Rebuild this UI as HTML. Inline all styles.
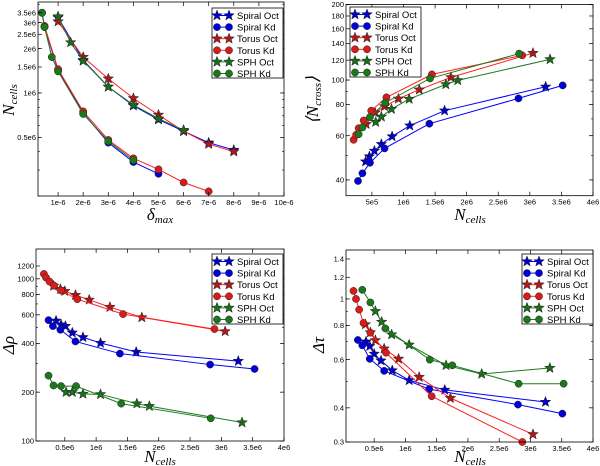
<!DOCTYPE html>
<html><head><meta charset="utf-8"><style>
body{margin:0;background:#fff;width:600px;height:466px;overflow:hidden}
svg{display:block;font-family:"Liberation Sans",sans-serif}
</style></head><body>
<svg id="c" width="600" height="466" viewBox="0 0 600 466"></svg>
<script>
// ---- Panel 1: N_cells vs delta_max ----
const p1SpiralOctX=[1e-6,2e-6,3e-6,4e-6,5e-6,6e-6,7e-6,8e-6];
const p1SpiralOctY=[3.25e6,1.67e6,1.1e6,0.82e6,0.66e6,0.55e6,0.46e6,0.41e6];
const p1SpiralKdX=[0.36e-6,0.46e-6,1e-6,2e-6,3e-6,4e-6,5e-6];
const p1SpiralKdY=[3.5e6,2.8e6,1.42e6,0.73e6,0.46e6,0.34e6,0.283e6];
const p1TorusOctX=[1e-6,2e-6,3e-6,4e-6,5e-6,6e-6,7e-6,8e-6];
const p1TorusOctY=[3.05e6,1.75e6,1.25e6,0.92e6,0.71e6,0.55e6,0.45e6,0.40e6];
const p1TorusKdX=[0.36e-6,0.46e-6,1e-6,2e-6,3e-6,4e-6,5e-6,6e-6,7e-6];
const p1TorusKdY=[3.5e6,2.85e6,1.45e6,0.75e6,0.48e6,0.36e6,0.303e6,0.247e6,0.215e6];
const p1SphOctX=[1e-6,1.5e-6,2e-6,3e-6,4e-6,5e-6,6e-6];
const p1SphOctY=[3.3e6,2.2e6,1.65e6,1.1e6,0.83e6,0.67e6,0.56e6];
const p1SphKdX=[0.36e-6,0.46e-6,0.75e-6,1e-6,2e-6,3e-6,4e-6];
const p1SphKdY=[3.5e6,2.8e6,1.75e6,1.4e6,0.72e6,0.47e6,0.35e6];
const p1XTicks=[1e-6,2e-6,3e-6,4e-6,5e-6,6e-6,7e-6,8e-6,9e-6,10e-6];
const p1XLabels=["1e-6","2e-6","3e-6","4e-6","5e-6","6e-6","7e-6","8e-6","9e-6","10e-6"];
const p1YTicks=[0.5e6,1e6,1.5e6,2e6,2.5e6,3e6,3.5e6];
const p1YLabels=["0.5e6","1e6","1.5e6","2e6","2.5e6","3e6","3.5e6"];
// ---- Panel 2: <N_cross> vs N_cells ----
const p2SpiralOctX=[0.40e6,0.46e6,0.54e6,0.65e6,0.82e6,1.10e6,1.65e6,3.25e6];
const p2SpiralOctY=[47.3,49.6,52.2,55.5,59.6,65.8,75.5,94];
const p2SpiralKdX=[0.28e6,0.35e6,0.47e6,0.70e6,1.41e6,2.82e6,3.52e6];
const p2SpiralKdY=[39.6,42.5,46.8,53.4,67,84.5,95.2];
const p2TorusOctX=[0.41e6,0.55e6,0.70e6,0.92e6,1.25e6,1.75e6,3.05e6];
const p2TorusOctY=[66.7,74.1,78.5,84.2,91.5,102.5,128];
const p2TorusKdX=[0.21e6,0.25e6,0.29e6,0.37e6,0.49e6,0.73e6,1.45e6,2.88e6];
const p2TorusKdY=[57.8,60.5,64.3,69,75.5,85.3,105.3,125.4];
const p2SphOctX=[0.56e6,0.65e6,0.81e6,1.09e6,1.67e6,1.86e6,3.32e6];
const p2SphOctY=[68,71.4,76.6,84,96.1,99.7,120.9];
const p2SphKdX=[0.29e6,0.35e6,0.47e6,0.71e6,1.42e6,2.83e6];
const p2SphKdY=[60.8,64.7,71.2,81.2,101.5,127.4];
const p2XTicks=[0.5e6,1e6,1.5e6,2e6,2.5e6,3e6,3.5e6,4e6];
const p2XLabels=["5e5","1e6","1.5e6","2e6","2.5e6","3e6","3.5e6","4e6"];
const p2YTicks=[40,60,80,100,120,140,160,180,200];
const p2YLabels=["40","60","80","100","120","140","160","180","200"];
// ---- Panel 3: delta rho vs N_cells ----
const p3SpiralOctX=[0.36e6,0.44e6,0.51e6,0.62e6,0.79e6,1.07e6,1.64e6,3.27e6];
const p3SpiralOctY=[551,521,511,465,436,402,354,311];
const p3SpiralKdX=[0.24e6,0.31e6,0.43e6,0.67e6,1.38e6,2.82e6,3.53e6];
const p3SpiralKdY=[556,511,485,411,346,296,278];
const p3TorusOctX=[0.32e6,0.43e6,0.50e6,0.67e6,0.89e6,1.22e6,1.73e6,3.06e6];
const p3TorusOctY=[904,863,839,793,742,669,578,474];
const p3TorusKdX=[0.166e6,0.20e6,0.257e6,0.33e6,0.44e6,0.70e6,1.43e6,2.89e6];
const p3TorusKdY=[1072,1018,961,908,847,749,606,490];
const p3SphOctX=[0.52e6,0.62e6,0.79e6,1.07e6,1.65e6,1.85e6,3.33e6];
const p3SphOctY=[200,200,195,194,170,164,130];
const p3SphKdX=[0.24e6,0.32e6,0.44e6,0.68e6,1.40e6,2.83e6];
const p3SphKdY=[253,220,218,218,170,138];
const p3XTicks=[0.5e6,1e6,1.5e6,2e6,2.5e6,3e6,3.5e6,4e6];
const p3XLabels=["0.5e6","1e6","1.5e6","2e6","2.5e6","3e6","3.5e6","4e6"];
const p3YTicks=[100,200,400,600,800,1000,1200];
const p3YLabels=["100","200","400","600","800","1000","1200"];
// ---- Panel 4: delta tau vs N_cells ----
const p4SpiralOctX=[0.37e6,0.43e6,0.50e6,0.61e6,0.79e6,1.06e6,1.63e6,3.24e6];
const p4SpiralOctY=[0.698,0.672,0.63,0.595,0.548,0.504,0.465,0.42];
const p4SpiralKdX=[0.24e6,0.31e6,0.43e6,0.66e6,1.38e6,2.80e6,3.51e6];
const p4SpiralKdY=[0.708,0.677,0.604,0.546,0.468,0.411,0.381];
const p4TorusOctX=[0.36e6,0.44e6,0.52e6,0.66e6,0.89e6,1.22e6,1.72e6,3.04e6];
const p4TorusOctY=[0.807,0.754,0.706,0.658,0.604,0.518,0.434,0.32];
const p4TorusKdX=[0.17e6,0.21e6,0.26e6,0.33e6,0.44e6,0.69e6,1.42e6,2.87e6];
const p4TorusKdY=[1.07,1.00,0.914,0.817,0.753,0.636,0.441,0.30];
const p4SphOctX=[0.52e6,0.62e6,0.78e6,1.06e6,1.65e6,2.22e6,3.31e6];
const p4SphOctY=[0.902,0.824,0.741,0.68,0.572,0.532,0.559];
const p4SphKdX=[0.31e6,0.44e6,0.68e6,1.39e6,1.75e6,2.81e6,3.53e6];
const p4SphKdY=[1.08,0.971,0.780,0.60,0.572,0.49,0.49];
const p4XTicks=[0.5e6,1e6,1.5e6,2e6,2.5e6,3e6,3.5e6,4e6];
const p4XLabels=["0.5e6","1e6","1.5e6","2e6","2.5e6","3e6","3.5e6","4e6"];
const p4YTicks=[0.3,0.4,0.6,0.8,1.0,1.2,1.4];
const p4YLabels=["0.3","0.4","0.6","0.8","1","1.2","1.4"];

const NS="http://www.w3.org/2000/svg";
const svg=document.getElementById('c');
function mk(tag,attrs,parent){const e=document.createElementNS(NS,tag);for(const k in attrs)e.setAttribute(k,attrs[k]);(parent||svg).appendChild(e);return e;}
const STYLE={
 spiralOct:{line:"#0000ff",fill:"#0000cc",m:"star",label:"Spiral Oct"},
 spiralKd:{line:"#0000ff",fill:"#0000dd",m:"circle",label:"Spiral Kd"},
 torusOct:{line:"#ff2020",fill:"#b01818",m:"star",label:"Torus Oct"},
 torusKd:{line:"#ff2020",fill:"#dd1a1a",m:"circle",label:"Torus Kd"},
 sphOct:{line:"#1f7a1f",fill:"#1a6b1a",m:"star",label:"SPH Oct"},
 sphKd:{line:"#1f7a1f",fill:"#1a7a1a",m:"circle",label:"SPH Kd"}
};
function starPts(cx,cy,R){let p=[];for(let i=0;i<10;i++){const r=i%2?R*0.42:R;const a=-Math.PI/2+i*Math.PI/5;p.push((cx+r*Math.cos(a)).toFixed(2)+","+(cy+r*Math.sin(a)).toFixed(2));}return p.join(" ");}
function marker(g,st,x,y,name){
 let e;
 if(st.m==="star"){e=mk('polygon',{points:starPts(x,y,5.5),fill:st.fill,stroke:"#222","stroke-width":0.5},g);}
 else{e=mk('circle',{cx:x,cy:y,r:3.6,fill:st.fill,stroke:"#222","stroke-width":0.5},g);}
 
 
}
function panel(P){
 const g=mk('g',{});
 
 
 const {L,R,T,B}=P;
 const sx=v=>L+(v-P.xmin)/(P.xmax-P.xmin)*(R-L);
 const ly0=Math.log10(P.ymin),ly1=Math.log10(P.ymax);
 const sy=v=>B-(Math.log10(v)-ly0)/(ly1-ly0)*(B-T);
 // minor y ticks
 for(let k=Math.floor(ly0);k<=Math.ceil(ly1);k++){for(let d=1;d<10;d++){const v=d*Math.pow(10,k);if(v<P.ymin*0.999||v>P.ymax*1.001)continue;const y=sy(v);
  mk('line',{x1:L,x2:L+2,y1:y,y2:y,stroke:"#000","stroke-width":0.6},g);mk('line',{x1:R,x2:R-2,y1:y,y2:y,stroke:"#000","stroke-width":0.6},g);}}
 // series
 for(const s of P.series){
  const st=STYLE[s.key];const sg=mk('g',{},g);
  
  
  const pts=s.x.map((v,i)=>sx(v).toFixed(2)+","+sy(s.y[i]).toFixed(2)).join(" ");
  mk('polyline',{points:pts,fill:"none",stroke:st.line,"stroke-width":1},sg);
  s.x.forEach((v,i)=>marker(sg,st,sx(v),sy(s.y[i]),'marker'));
 }
 // frame
 const fr=mk('rect',{x:L,y:T,width:R-L,height:B-T,fill:"none",stroke:"#000","stroke-width":0.8},g);
 
 
 // x ticks
 P.xt.forEach((v,i)=>{const x=sx(v);
  mk('line',{x1:x,x2:x,y1:B,y2:B-4,stroke:"#000","stroke-width":0.7},g);mk('line',{x1:x,x2:x,y1:T,y2:T+4,stroke:"#000","stroke-width":0.7},g);
  const t=mk('text',{x:x,y:B+9,"font-size":7.5,"text-anchor":"middle"},g);t.textContent=P.xl[i];
  
  });
 P.yt.forEach((v,i)=>{const y=sy(v);
  mk('line',{x1:L,x2:L+4,y1:y,y2:y,stroke:"#000","stroke-width":0.7},g);mk('line',{x1:R,x2:R-4,y1:y,y2:y,stroke:"#000","stroke-width":0.7},g);
  const t=mk('text',{x:L-2,y:y+2.7,"font-size":7.5,"text-anchor":"end"},g);t.textContent=P.yl[i];
  
  });
 // legend
 const lg=mk('g',{},g);
 
 
 mk('rect',{x:P.lx,y:P.ly,width:71,height:70,fill:"#fff",stroke:"#000","stroke-width":0.8},lg);
 ["spiralOct","spiralKd","torusOct","torusKd","sphOct","sphKd"].forEach((k,i)=>{
  const st=STYLE[k];const y=P.ly+7.5+i*11.6;const eg=mk('g',{},lg);
  
  
  mk('line',{x1:P.lx+5,x2:P.lx+17,y1:y,y2:y,stroke:st.line,"stroke-width":1},eg);
  marker(eg,st,P.lx+5,y,'legend-marker');marker(eg,st,P.lx+17,y,'legend-marker');
  const t=mk('text',{x:P.lx+25,y:y+3.5,"font-size":9.5},eg);t.textContent=st.label;
  
  });
}
function ser(a){return [
 {key:"spiralOct",x:a[0],y:a[1]},{key:"spiralKd",x:a[2],y:a[3]},
 {key:"torusOct",x:a[4],y:a[5]},{key:"torusKd",x:a[6],y:a[7]},
 {key:"sphOct",x:a[8],y:a[9]},{key:"sphKd",x:a[10],y:a[11]}];}
panel({name:"panel-ncells-vs-delta",prefix:"p1",L:38,R:284,T:2,B:196,xmin:0.2e-6,xmax:10e-6,ymin:0.2e6,ymax:4.14e6,
 xt:p1XTicks,xl:p1XLabels,yt:p1YTicks,yl:p1YLabels,lx:212,ly:8,
 series:ser([p1SpiralOctX,p1SpiralOctY,p1SpiralKdX,p1SpiralKdY,p1TorusOctX,p1TorusOctY,p1TorusKdX,p1TorusKdY,p1SphOctX,p1SphOctY,p1SphKdX,p1SphKdY])});
panel({name:"panel-ncross-vs-ncells",prefix:"p2",L:346,R:593,T:4.5,B:195.7,xmin:0.09e6,xmax:4e6,ymin:34.6,ymax:200,
 xt:p2XTicks,xl:p2XLabels,yt:p2YTicks,yl:p2YLabels,lx:350,ly:7,
 series:ser([p2SpiralOctX,p2SpiralOctY,p2SpiralKdX,p2SpiralKdY,p2TorusOctX,p2TorusOctY,p2TorusKdX,p2TorusKdY,p2SphOctX,p2SphOctY,p2SphKdX,p2SphKdY])});
panel({name:"panel-drho-vs-ncells",prefix:"p3",L:36,R:284,T:249,B:441,xmin:0.04e6,xmax:4e6,ymin:100,ymax:1527,
 xt:p3XTicks,xl:p3XLabels,yt:p3YTicks,yl:p3YLabels,lx:212,ly:254,
 series:ser([p3SpiralOctX,p3SpiralOctY,p3SpiralKdX,p3SpiralKdY,p3TorusOctX,p3TorusOctY,p3TorusKdX,p3TorusKdY,p3SphOctX,p3SphOctY,p3SphKdX,p3SphKdY])});
panel({name:"panel-dtau-vs-ncells",prefix:"p4",L:346,R:593,T:250,B:442,xmin:0.05e6,xmax:4e6,ymin:0.3,ymax:1.51,
 xt:p4XTicks,xl:p4XLabels,yt:p4YTicks,yl:p4YLabels,lx:522,ly:254,
 series:ser([p4SpiralOctX,p4SpiralOctY,p4SpiralKdX,p4SpiralKdY,p4TorusOctX,p4TorusOctY,p4TorusKdX,p4TorusKdY,p4SphOctX,p4SphOctY,p4SphKdX,p4SphKdY])});
// axis titles
function title(x,y,html,rot,name){const t=mk('text',{x:x,y:y,"font-size":17,"font-family":"Liberation Serif, serif","font-style":"italic","text-anchor":"middle"});
 if(rot)t.setAttribute('transform','rotate(-90 '+x+' '+y+')');t.innerHTML=html;
 
 }
title(160,220,'δ<tspan font-size="11" dy="3">max</tspan>',false,'x-axis-title-delta-max');
title(14,100,'N<tspan font-size="11" dy="3">cells</tspan>',true,'y-axis-title-ncells');
title(470,220,'N<tspan font-size="11" dy="3">cells</tspan>',false,'x-axis-title-ncells-top');
title(318,100,'⟨N<tspan font-size="11" dy="3">cross</tspan><tspan dy="-3">⟩</tspan>',true,'y-axis-title-ncross');
title(160,462,'N<tspan font-size="11" dy="3">cells</tspan>',false,'x-axis-title-ncells-bottom-left');
title(14,345,'Δρ',true,'y-axis-title-delta-rho');
title(470,462,'N<tspan font-size="11" dy="3">cells</tspan>',false,'x-axis-title-ncells-bottom-right');
title(324,345,'Δτ',true,'y-axis-title-delta-tau');
</script>
</body></html>
